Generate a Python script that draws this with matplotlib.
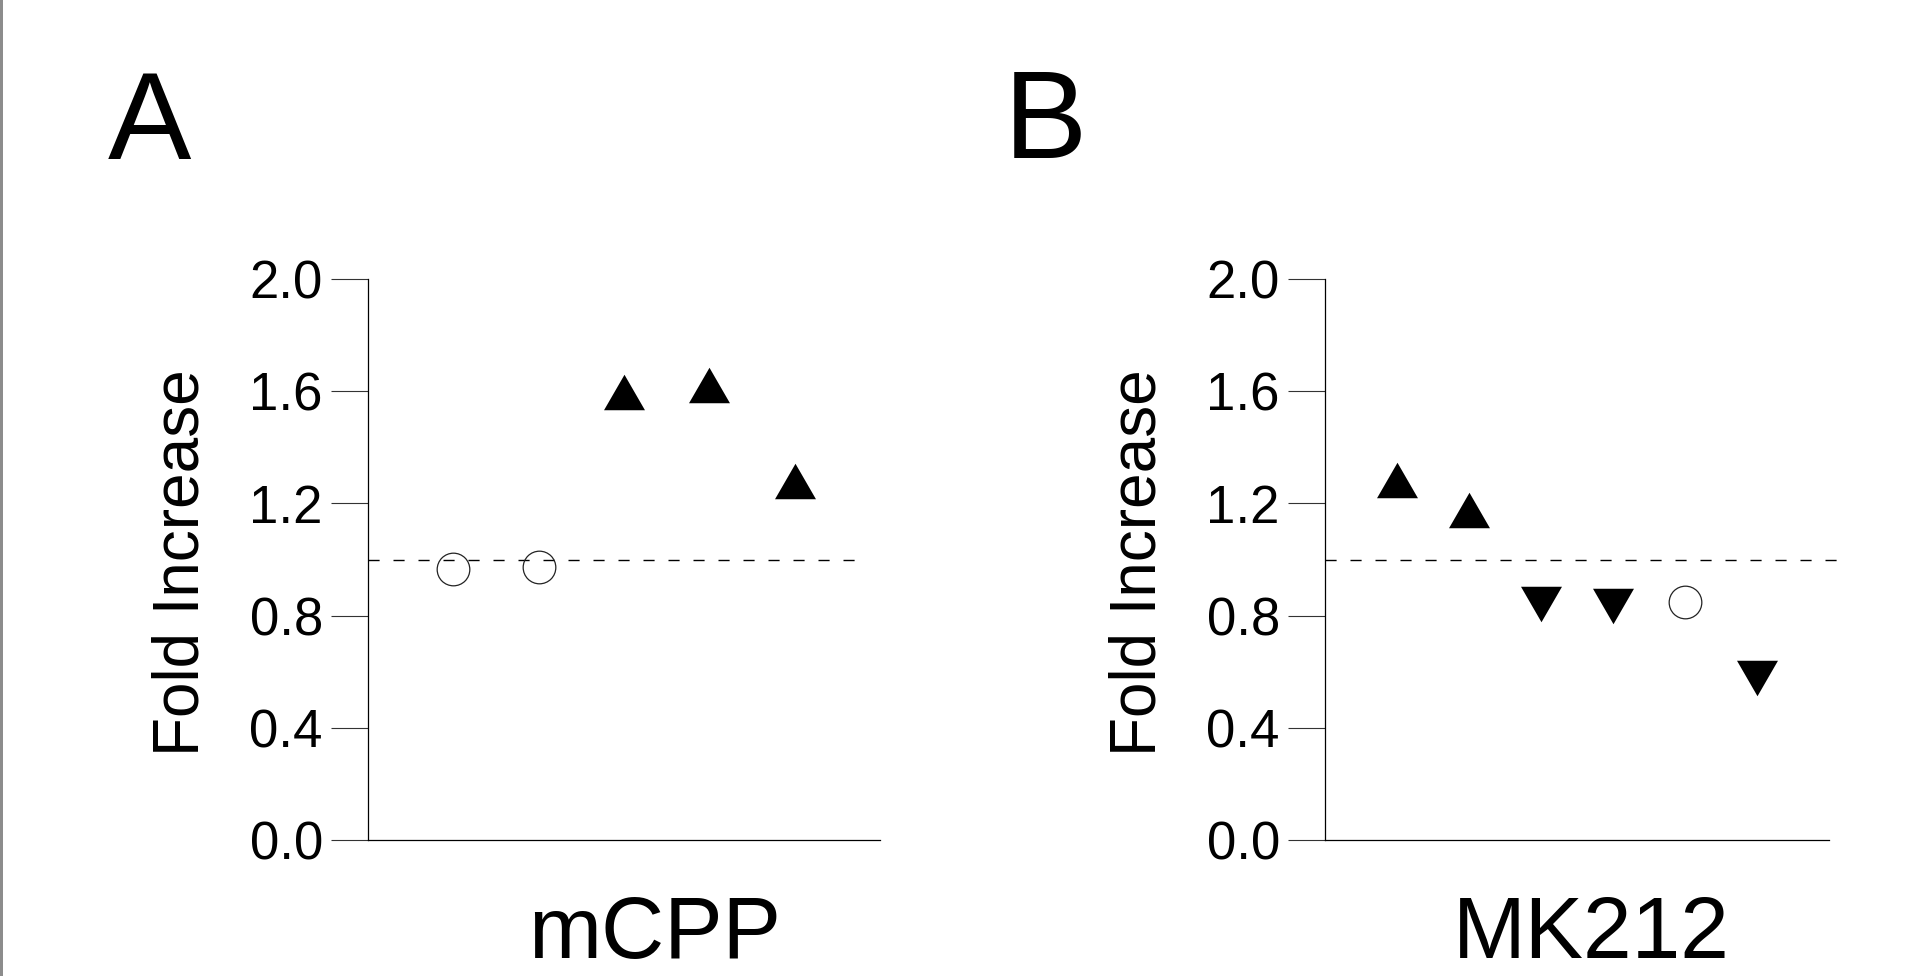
import matplotlib
matplotlib.use("Agg")
import matplotlib.pyplot as plt
from matplotlib.patches import Rectangle
from matplotlib.path import Path

plt.rcParams['font.family'] = ['Liberation Sans', 'DejaVu Sans']

# ---- data ----
yticks = [0.0, 0.4, 0.8, 1.2, 1.6, 2.0]
ytick_labels = ["0.0", "0.4", "0.8", "1.2", "1.6", "2.0"]
ylabel = "Fold Increase"
baseline = 1.0

# Panel A (mCPP)
a_title = "mCPP"
a_circle_x = [1, 2]
a_circle_y = [0.967, 0.974]
a_up_x = [3, 4, 5]
a_up_y = [1.598, 1.621, 1.279]
a_down_x = []
a_down_y = []

# Panel B (MK212)
b_title = "MK212"
b_up_x = [1, 2]
b_up_y = [1.282, 1.177]
b_down_x = [3, 4, 6]
b_down_y = [0.843, 0.836, 0.579]
b_circle_x = [5]
b_circle_y = [0.847]

# ---- figure ----
W, H = 1925, 976
fig = plt.figure(figsize=(W / 100, H / 100), dpi=100)
fig.patch.set_facecolor('white')

up_tri = Path([(-1, -0.866), (1, -0.866), (0, 0.866), (-1, -0.866)],
              [Path.MOVETO, Path.LINETO, Path.LINETO, Path.CLOSEPOLY])
down_tri = Path([(-1, 0.866), (1, 0.866), (0, -0.866), (-1, 0.866)],
                [Path.MOVETO, Path.LINETO, Path.LINETO, Path.CLOSEPOLY])

TRI_MS = 29.5
CIRC_MS = 23.5


def make_panel(left_px, right_px, xmax, dash_end, cx, cy, ux, uy, dx, dy):
    bottom_px, top_px = 840, 279
    ax = fig.add_axes([left_px / W, 1 - bottom_px / H,
                       (right_px - left_px) / W, (bottom_px - top_px) / H])
    ax.set_xlim(0, xmax)
    ax.set_ylim(0, 2.0)
    for s in ('top', 'right'):
        ax.spines[s].set_visible(False)
    for s in ('left', 'bottom'):
        ax.spines[s].set_linewidth(0.9)
        ax.spines[s].set_color('black')
    ax.set_xticks([])
    ax.set_yticks(yticks)
    ax.set_yticklabels(ytick_labels)
    ax.tick_params(axis='y', direction='out', length=26.5, width=0.8,
                   color='#333333', labelsize=38, pad=6)
    ax.plot([0, dash_end], [baseline, baseline], color='black', lw=1.0,
            dashes=(8, 10), clip_on=False, zorder=1)
    if cx:
        ax.plot(cx, cy, ls='none', marker='o', ms=CIRC_MS, mfc='none',
                mec='#222222', mew=0.9, zorder=3)
    if ux:
        ax.plot(ux, uy, ls='none', marker=up_tri, ms=TRI_MS, mfc='black',
                mec='black', mew=0, zorder=3)
    if dx:
        ax.plot(dx, dy, ls='none', marker=down_tri, ms=TRI_MS, mfc='black',
                mec='black', mew=0, zorder=3)
    ax.set_ylabel(ylabel, fontsize=46)
    ax.yaxis.set_label_coords(-156 / (right_px - left_px), 0.494)
    ax.patch.set_alpha(0)
    return ax


axA = make_panel(368, 880, 6, 5.77, a_circle_x, a_circle_y, a_up_x, a_up_y,
                 a_down_x, a_down_y)
axB = make_panel(1325, 1829, 7, 7.21, b_circle_x, b_circle_y, b_up_x, b_up_y,
                 b_down_x, b_down_y)

# panel letters
fig.text(108 / W, 1 - 159 / H, "A", fontsize=90, ha='left', va='baseline')
fig.text(1004 / W, 1 - 158 / H, "B", fontsize=90, ha='left', va='baseline')

# panel titles
fig.text(655 / W, 1 - 958 / H, a_title, fontsize=63, ha='center', va='baseline')
fig.text(1591 / W, 1 - 958 / H, b_title, fontsize=63, ha='center', va='baseline')

# gray bar on the left edge
fig.add_artist(Rectangle((0, 0), 3 / W, 1, transform=fig.transFigure,
                         facecolor='#8c8c8c', edgecolor='none'))

fig.savefig("out.png", dpi=100)
